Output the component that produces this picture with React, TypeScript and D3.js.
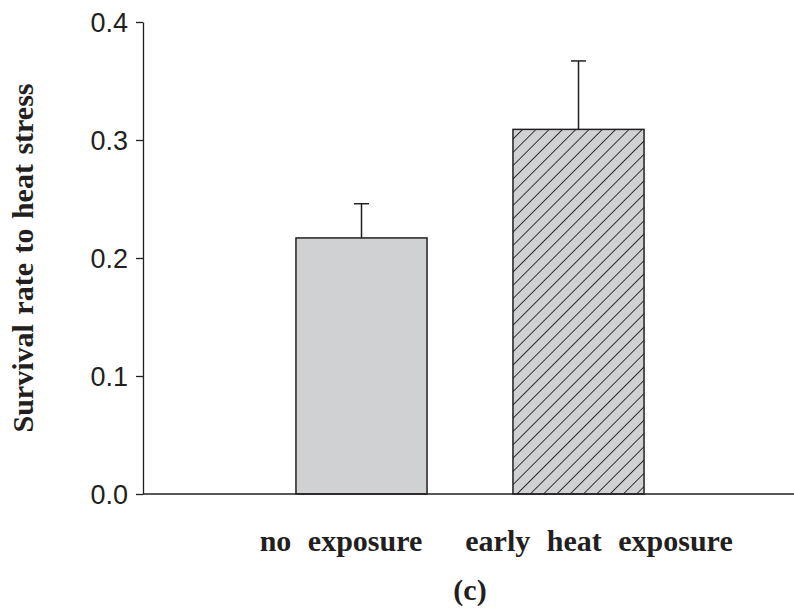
import React, { useEffect, useRef } from "react";
import * as d3 from "d3";

const categories = ["no exposure", "early heat exposure"];
const means = [0.217, 0.309];
const errors = [0.029, 0.058];
const yTicks = [0.0, 0.1, 0.2, 0.3, 0.4];

const W = 794;
const H = 610;

export default function App() {
  const ref = useRef<SVGSVGElement>(null);

  useEffect(() => {
    const svg = d3.select(ref.current);
    svg.selectAll("*").remove();

    const axisX = 143;
    const baseY = 494;

    const y = d3.scaleLinear().domain([0, 0.4]).range([baseY, 22]);
    const x = d3
      .scaleBand()
      .domain(categories)
      .range([253, 687])
      .paddingInner(0.396)
      .paddingOuter(0.198);

    const defs = svg.append("defs");
    const pat = defs
      .append("pattern")
      .attr("id", "hatch")
      .attr("patternUnits", "userSpaceOnUse")
      .attr("width", 9.4)
      .attr("height", 9.4)
      .attr("patternTransform", "rotate(45)");
    pat.append("rect").attr("width", 9.4).attr("height", 9.4).attr("fill", "#d0d1d3");
    pat
      .append("line")
      .attr("x1", 0)
      .attr("y1", 0)
      .attr("x2", 0)
      .attr("y2", 9.4)
      .attr("stroke", "#231f20")
      .attr("stroke-width", 1.8);

    // bars
    svg
      .selectAll("rect.bar")
      .data(categories)
      .enter()
      .append("rect")
      .attr("class", "bar")
      .attr("x", (d) => x(d)!)
      .attr("y", (d, i) => y(means[i]))
      .attr("width", x.bandwidth())
      .attr("height", (d, i) => baseY - y(means[i]))
      .attr("fill", (d, i) => (i === 0 ? "#d0d1d3" : "url(#hatch)"))
      .attr("stroke", "#231f20")
      .attr("stroke-width", 1.5);

    // error bars
    const eg = svg.append("g").attr("stroke", "#231f20").attr("stroke-width", 1.5);
    categories.forEach((c, i) => {
      const cx = x(c)! + x.bandwidth() / 2;
      eg.append("line")
        .attr("x1", cx)
        .attr("x2", cx)
        .attr("y1", y(means[i]))
        .attr("y2", y(means[i] + errors[i]));
      eg.append("line")
        .attr("x1", cx - 7.5)
        .attr("x2", cx + 7.5)
        .attr("y1", y(means[i] + errors[i]))
        .attr("y2", y(means[i] + errors[i]));
    });

    // y axis
    const ya = svg
      .append("g")
      .attr("transform", `translate(${axisX},0)`)
      .call(
        d3
          .axisLeft(y)
          .tickValues(yTicks)
          .tickFormat(d3.format(".1f"))
          .tickSize(7)
          .tickSizeOuter(0)
      );
    ya.select(".domain").attr("stroke", "#231f20").attr("stroke-width", 1.3);
    ya.selectAll(".tick line").attr("stroke", "#231f20").attr("stroke-width", 1.3);
    ya.selectAll(".tick text")
      .attr("x", -15)
      .attr("dy", "0.36em")
      .attr("fill", "#231f20")
      .style("font-family", "Liberation Sans, Arial, sans-serif")
      .style("font-size", "27px");

    // x baseline
    svg
      .append("line")
      .attr("x1", axisX)
      .attr("x2", W)
      .attr("y1", baseY)
      .attr("y2", baseY)
      .attr("stroke", "#231f20")
      .attr("stroke-width", 1.5);

    const serif = "Liberation Serif, Times New Roman, serif";
    const labelX = [341, 599];

    svg
      .selectAll("text.cat")
      .data(categories)
      .enter()
      .append("text")
      .attr("class", "cat")
      .attr("x", (d, i) => labelX[i])
      .attr("y", 551)
      .attr("text-anchor", "middle")
      .attr("fill", "#231f20")
      .style("font-family", serif)
      .style("font-weight", "bold")
      .style("font-size", "30px")
      .style("word-spacing", "9px")
      .text((d) => d);

    svg
      .append("text")
      .attr("x", 470)
      .attr("y", 600)
      .attr("text-anchor", "middle")
      .attr("fill", "#231f20")
      .style("font-family", serif)
      .style("font-weight", "bold")
      .style("font-size", "30px")
      .text("(c)");

    svg
      .append("text")
      .attr("transform", `translate(33,258) rotate(-90)`)
      .attr("text-anchor", "middle")
      .attr("fill", "#231f20")
      .style("font-family", serif)
      .style("font-weight", "bold")
      .style("font-size", "30px")
      .style("word-spacing", "2px")
      .text("Survival rate to heat stress");
  }, []);

  return (
    <svg
      ref={ref}
      width={W}
      height={H}
      style={{ position: "absolute", left: 0, top: 0, background: "#fff" }}
    />
  );
}
